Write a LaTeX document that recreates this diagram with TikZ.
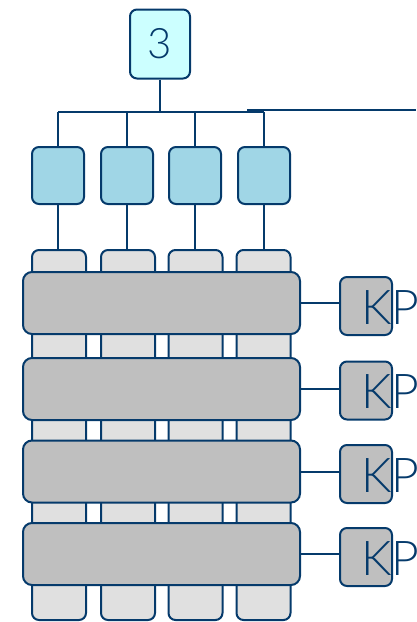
\documentclass[tikz,border=0pt]{standalone}
\usepackage{fontspec}
\setmainfont{Lato}[UprightFont={* Light}]
\definecolor{edge}{HTML}{053A6B}
\definecolor{topfill}{HTML}{CCFFFF}
\definecolor{bluefill}{HTML}{A0D6E6}
\definecolor{barfill}{HTML}{BFBFBF}
\definecolor{colfill}{HTML}{E0E0E0}
\tikzset{
  box/.style={draw=edge, line width=2pt, rounded corners=7pt, inner sep=0pt, anchor=center},
  topbox/.style={box, fill=topfill, minimum width=60pt, minimum height=69pt, font=\fontsize{42}{44}\selectfont, text=edge},
  bluebox/.style={box, fill=bluefill, minimum width=52pt, minimum height=57pt},
  colbox/.style={box, fill=colfill, minimum width=54pt, minimum height=370pt},
  barbox/.style={box, fill=barfill, rounded corners=9pt, minimum width=277pt, minimum height=62pt},
  kpbox/.style={box, fill=barfill, minimum width=52pt, minimum height=58pt},
  kptext/.style={inner sep=0pt, anchor=base west, text=edge, font=\fontsize{48}{50}\selectfont},
  wire/.style={draw=edge, line width=2pt},
}
\begin{document}
\begin{tikzpicture}[x=1pt,y=-1pt]
\useasboundingbox (0,0) rectangle (416,622);
\clip (0,0) rectangle (416,622);
% columns
\node[colbox] (c1) at (59,435) {};
\node[colbox] (c2) at (128,435) {};
\node[colbox] (c3) at (195.5,435) {};
\node[colbox] (c4) at (263.5,435) {};
% bars
\node[barbox] (r1) at (161.5,303) {};
\node[barbox] (r2) at (161.5,389) {};
\node[barbox] (r3) at (161.5,471.5) {};
\node[barbox] (r4) at (161.5,554) {};
% KP boxes
\node[kpbox] (k1) at (366,306) {};
\node[kpbox] (k2) at (366,390.5) {};
\node[kpbox] (k3) at (366,474) {};
\node[kpbox] (k4) at (366,557) {};
% connectors bar -> KP
\draw[wire] (r1.east) -- (r1.east -| k1.west);
\draw[wire] (r2.east) -- (r2.east -| k2.west);
\draw[wire] (r3.east) -- (r3.east -| k3.west);
\draw[wire] (r4.east) -- (r4.east -| k4.west);
% blue boxes
\node[bluebox] (b1) at (58,175.5) {};
\node[bluebox] (b2) at (127,175.5) {};
\node[bluebox] (b3) at (195,175.5) {};
\node[bluebox] (b4) at (264,175.5) {};
% top box
\node[topbox] (t) at (160,44) {3};
% bus
\coordinate (bus) at (160,112);
\draw[wire] (t.south) -- (bus);
\draw[wire] (b1.north |- bus) -- (b4.north |- bus);
\draw[wire] (b1.north |- bus) -- (b1.north);
\draw[wire] (b2.north |- bus) -- (b2.north);
\draw[wire] (b3.north |- bus) -- (b3.north);
\draw[wire] (b4.north |- bus) -- (b4.north);
\coordinate (e1) at (247,110);
\coordinate (e2) at (416,110);
\draw[wire] (e1) -- (e2);
% blue -> columns
\draw[wire] (b1.south) -- (b1.south |- c1.north);
\draw[wire] (b2.south) -- (b2.south |- c2.north);
\draw[wire] (b3.south) -- (b3.south |- c3.north);
\draw[wire] (b4.south) -- (b4.south |- c4.north);
% KP labels
\node[kptext] (l1) at (361,324) {KP};
\node[kptext] (l2) at (361,408) {KP};
\node[kptext] (l3) at (361,492) {KP};
\node[kptext] (l4) at (361,575) {KP};
\end{tikzpicture}
\end{document}
